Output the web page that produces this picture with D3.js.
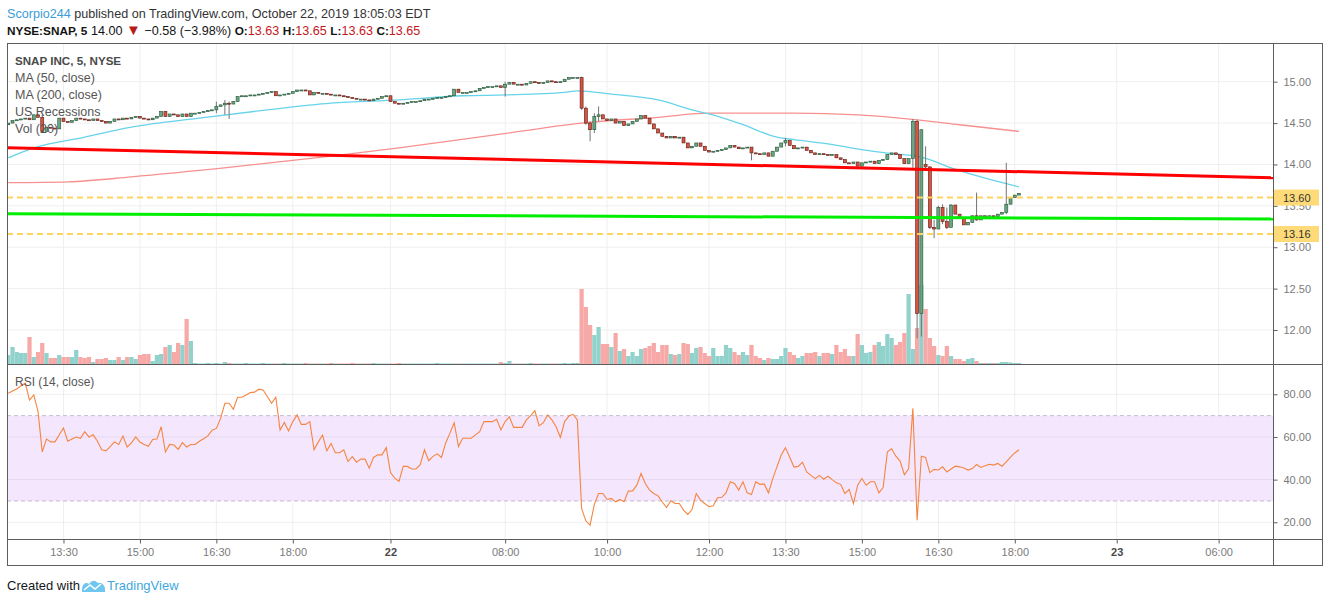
<!DOCTYPE html>
<html>
<head>
<meta charset="utf-8">
<script src="https://cdn.jsdelivr.net/npm/d3@7"></script>
<style>
    body { margin: 0; background: #ffffff; }
    svg text { font-family: "Liberation Sans", Arial, sans-serif; }
</style>
</head>
<body>
<div id="chart"></div>
<script>

// time axis: bar index of each label
const tickIdx = [13, 31, 49, 67, 90, 117, 141, 165, 183, 201, 219, 237, 261, 285];
const tickLabels = ["13:30", "15:00", "16:30", "18:00", "22", "08:00", "10:00", "12:00", "13:30", "15:00", "16:30", "18:00", "23", "06:00"];
const dayLabels = ["22", "23"];

const priceTicks = [12, 12.5, 13, 13.5, 14, 14.5, 15];
const rsiTicks = [20, 40, 60, 80];

// 5 min closes, Oct 21 12:25 -> Oct 22 18:05
const closes = [
    14.50,14.53,14.54,14.55,14.56,14.54,14.60,14.57,14.40,14.45,
    14.44,14.43,14.56,14.52,14.51,14.53,14.56,14.55,14.54,14.53,
    14.55,14.53,14.52,14.50,14.52,14.55,14.54,14.56,14.55,14.57,
    14.58,14.56,14.55,14.54,14.56,14.58,14.64,14.58,14.61,14.60,
    14.58,14.61,14.58,14.62,14.62,14.63,14.64,14.65,14.66,14.70,
    14.72,14.74,14.73,14.76,14.82,14.83,14.83,14.84,14.84,14.85,
    14.86,14.87,14.88,14.83,14.84,14.85,14.86,14.88,14.90,14.90,
    14.89,14.84,14.87,14.86,14.86,14.85,14.84,14.84,14.83,14.82,
    14.81,14.80,14.79,14.79,14.78,14.77,14.79,14.80,14.82,14.83,
    14.76,14.74,14.73,14.74,14.75,14.76,14.76,14.77,14.79,14.79,
    14.80,14.81,14.81,14.82,14.83,14.91,14.87,14.87,14.87,14.88,
    14.89,14.92,14.93,14.94,14.94,14.95,14.93,14.97,14.99,14.97,
    14.97,14.96,14.98,15.00,14.99,14.98,14.99,15.01,15.00,14.99,
    15.00,15.03,15.05,15.05,15.05,14.68,14.50,14.42,14.58,14.60,
    14.55,14.53,14.55,14.50,14.52,14.47,14.49,14.52,14.55,14.59,
    14.56,14.49,14.43,14.38,14.34,14.32,14.34,14.32,14.33,14.26,
    14.20,14.22,14.26,14.22,14.17,14.15,14.16,14.17,14.18,14.20,
    14.23,14.21,14.19,14.20,14.21,14.14,14.13,14.12,14.14,14.10,
    14.16,14.21,14.26,14.29,14.23,14.19,14.20,14.21,14.17,14.14,
    14.12,14.13,14.12,14.11,14.12,14.08,14.06,14.02,14.01,14.03,
    13.98,14.02,14.03,14.04,14.01,14.05,14.06,14.12,14.14,14.12,
    14.07,14.01,14.07,14.52,12.20,14.42,13.97,13.24,13.22,13.48,
    13.31,13.24,13.51,13.40,13.36,13.27,13.30,13.38,13.33,13.38,
    13.36,13.38,13.37,13.40,13.42,13.52,13.60,13.63,13.65
];

// opens that differ from the previous close
const gapIdx = [0, 216];
const gapOpen = [14.48, 14.00];

// bars with visible wicks
const wickIdx  = [8, 49, 51, 52, 117, 135, 136, 137, 138, 139, 175, 183, 213, 214, 215, 216, 217, 218, 219, 220, 221, 222, 228, 235];
const wickHigh = [14.60, 14.76, 14.78, 14.76, 15.00, 15.06, 14.70, 14.52, 14.62, 14.70, 14.15, 14.32, 14.55, 14.54, 14.42, 14.22, 13.98, 13.33, 13.50, 13.52, 13.48, 13.52, 13.66, 14.02];
const wickLow  = [14.38, 14.62, 14.60, 14.55, 14.82, 14.66, 14.48, 14.28, 14.38, 14.52, 14.05, 14.22, 13.96, 11.90, 11.92, 13.95, 13.22, 13.11, 13.22, 13.28, 13.22, 13.24, 13.32, 13.40];

// volume, thousand shares
const volumes = [
    180,340,240,220,220,540,140,240,420,220,120,120,180,140,140,140,280,140,120,140,
    40,100,100,120,80,80,140,80,140,140,100,180,200,200,60,180,200,340,380,240,
    420,380,900,460,
    20,10,10,20,10,20,10,40,20,10,10,10,20,10,10,10,20,10,10,10,
    10,20,10,10,10,10,20,10,10,10,10,10,20,10,10,10,10,20,10,10,
    10,10,20,10,10,10,
    10,10,20,10,10,10,10,10,10,10,10,20,10,10,10,10,10,10,10,10,
    10,10,10,10,10,10,40,20,60,10,10,10,10,20,10,10,10,10,10,10,
    10,20,10,20,20,
    1500,1140,780,580,740,400,400,340,620,260,300,160,240,160,300,320,360,420,240,380,
    380,200,180,200,420,400,220,320,340,220,160,320,160,160,380,320,240,180,240,180,
    380,160,120,80,120,100,100,160,320,240,180,120,160,220,220,240,160,220,220,200,
    380,240,300,160,
    160,600,380,220,240,380,440,360,600,520,380,440,620,1400,300,720,1580,1100,520,360,
    180,160,360,160,100,100,60,100,120,60,20,20,20,20,20,40,40,30,20,20
];

const rsi = [
    80.5,81.5,82.5,84,85.2,77.3,79.7,72,53,59,
    57.7,57.7,61,64.2,58,59,60,59.4,62.5,60,
    61,58,54,53.5,55.5,57.7,56.5,60.4,55.3,57.2,
    60,57.6,56.5,55.6,58.8,59,64.8,53,56.5,56.2,
    54.2,57.3,55.3,56.5,56.5,58,59.2,60.5,63.2,64,
    68.7,75.8,75.8,73,78.6,78.6,79.7,80.8,81,82.4,
    82,79,75.8,78.6,63.2,66.8,62.8,67.2,70.3,65.9,
    65.9,67.2,54,57.7,60.9,53.5,57,52.6,52.6,54,
    48.5,50.8,48.2,49.6,49.6,45.4,50.4,51.6,51.6,55,
    43.3,40.7,39.2,46.2,46.2,45,45,47,54,48.9,
    50.9,52.1,50.4,57.2,61.8,66.7,55.5,59.4,59.4,59.4,
    61,62.5,67.2,67.2,67.2,68.3,63.3,67.2,69.5,64.5,
    64.5,64.5,68,70,72.3,65.2,66.7,70.3,68,64.8,
    59.8,67.2,69.8,70.6,68,26.5,20.7,18.7,28.4,33.5,
    33.5,30.7,31.2,29.6,30.7,29.6,34.6,34.7,37.4,42.9,
    38.2,35.1,33.5,32.4,29.5,26.9,30.1,28.8,28.8,25.7,
    23.7,26,33.5,30.4,28.8,27.3,27.7,31.5,31.7,33.8,
    39,38.2,35.1,39,33.8,33,39,37.8,38,33.8,
    40.5,46,51.5,55,50.5,45.9,46.2,48.2,43.6,42,
    40.5,42,40.2,41.6,40,38.5,37.8,33.5,35.4,28.8,
    37.4,40.5,37.4,39,39,33.8,36.3,53,54.5,51,
    48.7,42.3,45.1,73.4,21,51,50.4,43.3,44.8,44.5,
    46,43.6,45,46.3,46,45.5,44.5,45.2,47.1,45.7,
    46.5,47.2,46.8,47.6,46.3,48.3,50.5,52.5,54
];

// moving averages at a few bars
const ma50Idx = [0, 6, 18, 29, 45, 61, 76, 92, 107, 117, 131, 134, 142, 153, 161, 165, 173, 181, 185, 193, 201, 208, 215, 222, 229, 238];
const ma50Val = [14.08, 14.20, 14.33, 14.45, 14.56, 14.66, 14.74, 14.78, 14.83, 14.84, 14.87, 14.89, 14.85, 14.78, 14.66, 14.61, 14.48, 14.33, 14.30, 14.25, 14.18, 14.13, 14.09, 13.96, 13.85, 13.73];
const ma200Idx = [0, 14, 29, 53, 76, 92, 115, 135, 153, 165, 185, 200, 214, 224, 238];
const ma200Val = [13.78, 13.79, 13.85, 13.97, 14.10, 14.20, 14.36, 14.50, 14.57, 14.62, 14.62, 14.60, 14.54, 14.48, 14.40];

// drawn trend lines and levels
const trendIdx = [-0.3, 297.8];
const redTrend = [14.203, 13.84];
const greenTrend = [13.405, 13.341];
const levels = [13.60, 13.16];


class Chart {
    constructor(parentElement) {
        this.parentElement = parentElement;
        this.initVis();
    }

    initVis() {
        let vis = this;
        vis.left = 7; vis.right = 1273; vis.outerRight = 1323;
        vis.top = 43; vis.paneSplit = 364; vis.rsiBottom = 539; vis.bottom = 566;

        vis.svg = d3.select("#" + vis.parentElement)
            .append("svg")
            .attr("width", 1330)
            .attr("height", 603);

        vis.x = d3.scaleLinear().domain([-0.3, 297.8]).range([vis.left, vis.right]);
        vis.yPrice = d3.scaleLinear().domain([12, 15]).range([330, 81.7]);
        vis.yVol = d3.scaleLinear().domain([0, 2000]).range([vis.paneSplit, vis.paneSplit - 100]);
        vis.yRsi = d3.scaleLinear().domain([20, 80]).range([522.3, 394.3]);

        let defs = vis.svg.append("defs");
        defs.append("clipPath").attr("id", "clip-main").append("rect")
            .attr("x", vis.left).attr("y", vis.top)
            .attr("width", vis.right - vis.left).attr("height", vis.paneSplit - vis.top);
        defs.append("clipPath").attr("id", "clip-rsi").append("rect")
            .attr("x", vis.left).attr("y", vis.paneSplit)
            .attr("width", vis.right - vis.left).attr("height", vis.rsiBottom - vis.paneSplit);

        vis.wrangleData();
    }

    wrangleData() {
        let vis = this;
        vis.bars = closes.map((c, i) => {
            let g = gapIdx.indexOf(i);
            let o = g >= 0 ? gapOpen[g] : (i > 0 ? closes[i - 1] : c);
            let w = wickIdx.indexOf(i);
            return {
                i: i, o: o, c: c, v: volumes[i], r: rsi[i],
                h: w >= 0 ? wickHigh[w] : Math.max(o, c),
                l: w >= 0 ? wickLow[w] : Math.min(o, c)
            };
        });
        vis.updateVis();
    }

    updateVis() {
        let vis = this;
        let bw = vis.x(1) - vis.x(0);

        // grid
        let grid = vis.svg.append("g").attr("class", "grid");
        grid.selectAll(".vgrid").data(tickIdx).enter().append("line")
            .attr("x1", d => vis.x(d)).attr("x2", d => vis.x(d))
            .attr("y1", vis.top).attr("y2", vis.rsiBottom)
            .attr("stroke", "#efefef");
        grid.selectAll(".pgrid").data(priceTicks).enter().append("line")
            .attr("x1", vis.left).attr("x2", vis.right)
            .attr("y1", d => vis.yPrice(d)).attr("y2", d => vis.yPrice(d))
            .attr("stroke", "#efefef");

        // RSI band + grid
        let rsiG = vis.svg.append("g").attr("clip-path", "url(#clip-rsi)");
        rsiG.append("rect")
            .attr("x", vis.left).attr("width", vis.right - vis.left)
            .attr("y", vis.yRsi(70)).attr("height", vis.yRsi(30) - vis.yRsi(70))
            .attr("fill", "#f4e6fd");
        rsiG.selectAll(".rgrid").data(rsiTicks).enter().append("line")
            .attr("x1", vis.left).attr("x2", vis.right)
            .attr("y1", d => vis.yRsi(d)).attr("y2", d => vis.yRsi(d))
            .attr("stroke", "rgba(0,0,0,0.06)");
        rsiG.selectAll(".band-line").data([70, 30]).enter().append("line")
            .attr("x1", vis.left).attr("x2", vis.right)
            .attr("y1", d => vis.yRsi(d)).attr("y2", d => vis.yRsi(d))
            .attr("stroke", "#c4bccb").attr("stroke-dasharray", "4,3");
        rsiG.append("path")
            .datum(vis.bars)
            .attr("fill", "none")
            .attr("stroke", "#f5853f")
            .attr("stroke-width", 1.1)
            .attr("d", d3.line().x(d => vis.x(d.i)).y(d => vis.yRsi(d.r)));

        let main = vis.svg.append("g").attr("clip-path", "url(#clip-main)");

        // volume
        main.selectAll(".vol").data(vis.bars).enter().append("rect")
            .attr("class", "vol")
            .attr("x", d => vis.x(d.i) - bw / 2)
            .attr("width", bw)
            .attr("y", d => vis.yVol(d.v))
            .attr("height", d => vis.yVol(0) - vis.yVol(d.v))
            .attr("fill", d => d.c >= d.o ? "#92d2cc" : "#f7a9a7");

        // moving averages
        let maLine = d3.line().x(d => vis.x(d[0])).y(d => vis.yPrice(d[1])).curve(d3.curveMonotoneX);
        main.append("path")
            .datum(ma200Idx.map((d, k) => [d, ma200Val[k]]))
            .attr("fill", "none").attr("stroke", "#f7908f").attr("stroke-width", 1.3)
            .attr("d", maLine);
        main.append("path")
            .datum(ma50Idx.map((d, k) => [d, ma50Val[k]]))
            .attr("fill", "none").attr("stroke", "#66d3ea").attr("stroke-width", 1.3)
            .attr("d", maLine);

        // candles
        let candles = main.selectAll(".candle").data(vis.bars).enter().append("g").attr("class", "candle");
        candles.append("line")
            .attr("x1", d => vis.x(d.i)).attr("x2", d => vis.x(d.i))
            .attr("y1", d => vis.yPrice(d.h)).attr("y2", d => vis.yPrice(d.l))
            .attr("stroke", "#737375").attr("stroke-width", 1);
        candles.append("rect")
            .attr("x", d => vis.x(d.i) - 1.5)
            .attr("width", 3)
            .attr("y", d => vis.yPrice(Math.max(d.o, d.c)))
            .attr("height", d => Math.max(1, Math.abs(vis.yPrice(d.o) - vis.yPrice(d.c))))
            .attr("fill", d => d.c >= d.o ? "#6ba583" : "#d75442")
            .attr("stroke", d => d.c >= d.o ? "#225437" : "#5b1a13")
            .attr("stroke-width", 0.6);

        // levels and trend lines
        main.selectAll(".level").data(levels).enter().append("line")
            .attr("x1", vis.left).attr("x2", vis.right)
            .attr("y1", d => vis.yPrice(d)).attr("y2", d => vis.yPrice(d))
            .attr("stroke", "#ffd45e").attr("stroke-width", 2)
            .attr("stroke-dasharray", "6,4");
        let trendLine = d3.line().x(d => vis.x(d[0])).y(d => vis.yPrice(d[1]));
        main.append("path")
            .datum(trendIdx.map((d, k) => [d, redTrend[k]]))
            .attr("stroke", "#ff0000").attr("stroke-width", 3).attr("d", trendLine);
        main.append("path")
            .datum(trendIdx.map((d, k) => [d, greenTrend[k]]))
            .attr("stroke", "#00ee00").attr("stroke-width", 3).attr("d", trendLine);

        // legends
        let legend = vis.svg.append("g");
        let legendRows = ["SNAP INC, 5, NYSE", "MA (50, close)", "MA (200, close)", "US Recessions", "Vol (20)"];
        legend.selectAll("text").data(legendRows).enter().append("text")
            .attr("x", 15)
            .attr("y", (d, k) => 65.4 + k * 16.8)
            .attr("font-weight", (d, k) => k === 0 ? "700" : "400")
            .attr("font-size", (d, k) => k === 0 ? "11.6px" : "12.5px")
            .attr("fill", (d, k) => k === 0 ? "#4a4a4a" : "#555")
            .text(d => d);
        vis.svg.append("text")
            .attr("x", 15).attr("y", 386)
            .attr("font-size", "12px").attr("fill", "#555")
            .text("RSI (14, close)");

        // frame
        let frame = vis.svg.append("g").attr("fill", "none").attr("stroke", "#5d5d5d");
        frame.append("rect")
            .attr("x", vis.left + 0.5).attr("y", vis.top + 0.5)
            .attr("width", vis.outerRight - vis.left - 1).attr("height", vis.bottom - vis.top - 1);
        frame.append("line").attr("x1", vis.right + 0.5).attr("x2", vis.right + 0.5)
            .attr("y1", vis.top).attr("y2", vis.bottom);
        frame.append("line").attr("x1", vis.left).attr("x2", vis.outerRight)
            .attr("y1", vis.paneSplit + 0.5).attr("y2", vis.paneSplit + 0.5);
        frame.append("line").attr("x1", vis.left).attr("x2", vis.outerRight)
            .attr("y1", vis.rsiBottom + 0.5).attr("y2", vis.rsiBottom + 0.5);

        // axes
        let styleAxis = g => {
            g.select(".domain").remove();
            g.selectAll(".tick line").attr("stroke", "#5d5d5d");
            g.selectAll(".tick text")
                .attr("fill", "#7a7a7a")
                .style("font-family", "'Liberation Sans', Arial, sans-serif")
                .style("font-size", "11px");
        };
        vis.svg.append("g")
            .attr("transform", "translate(" + (vis.right + 0.5) + ",0)")
            .call(d3.axisRight(vis.yPrice).tickValues(priceTicks).tickFormat(d3.format(".2f")).tickSize(4).tickPadding(6))
            .call(styleAxis);
        vis.svg.append("g")
            .attr("transform", "translate(" + (vis.right + 0.5) + ",0)")
            .call(d3.axisRight(vis.yRsi).tickValues(rsiTicks).tickFormat(d3.format(".2f")).tickSize(4).tickPadding(6))
            .call(styleAxis);
        let xAxisG = vis.svg.append("g")
            .attr("transform", "translate(0," + (vis.rsiBottom + 0.5) + ")")
            .call(d3.axisBottom(vis.x).tickValues(tickIdx).tickFormat((d, k) => tickLabels[k]).tickSize(4).tickPadding(5))
            .call(styleAxis);
        xAxisG.selectAll(".tick text")
            .filter(d => dayLabels.includes(tickLabels[tickIdx.indexOf(d)]))
            .attr("fill", "#4a4a4a")
            .style("font-weight", "700");

        // price badges for the dashed levels
        let badges = vis.svg.selectAll(".badge").data(levels).enter().append("g");
        badges.append("rect")
            .attr("x", vis.right + 1).attr("width", 45)
            .attr("y", d => vis.yPrice(d) - 8).attr("height", 16)
            .attr("fill", "#fedb78");
        badges.append("text")
            .attr("x", vis.right + 10).attr("y", d => vis.yPrice(d))
            .attr("dy", "0.36em")
            .attr("font-size", "11px").attr("fill", "#333")
            .text(d => d3.format(".2f")(d));

        // header
        vis.svg.append("text")
            .attr("x", 7).attr("y", 17.5)
            .attr("font-size", "12.6px").attr("fill", "#333")
            .call(t => {
                t.append("tspan").attr("fill", "#3d9bd8").text("Scorpio244");
                t.append("tspan").text(" published on TradingView.com, October 22, 2019 18:05:03 EDT");
            });
        let lastBar = vis.bars[vis.bars.length - 1];
        let fmt = d3.format(".2f");
        let parts = [
            ["NYSE:SNAP, 5", "b", "#131313"],
            [" 14.00 ", "n", "#131313"],
            ["\u25BC", "t", "#b71c1c"],
            [" \u22120.58 (\u22123.98%) ", "n", "#131313"],
            ["O:", "b", "#131313"], [fmt(lastBar.o) + " ", "n", "#c4161c"],
            ["H:", "b", "#131313"], [fmt(lastBar.h) + " ", "n", "#c4161c"],
            ["L:", "b", "#131313"], [fmt(lastBar.l) + " ", "n", "#c4161c"],
            ["C:", "b", "#131313"], [fmt(lastBar.c), "n", "#c4161c"]
        ];
        vis.svg.append("text")
            .attr("x", 7).attr("y", 34.5)
            .style("white-space", "pre")
            .selectAll("tspan").data(parts).enter().append("tspan")
            .attr("fill", d => d[2])
            .attr("font-weight", d => d[1] === "b" ? "700" : "400")
            .attr("font-size", d => d[1] === "b" ? "11.8px" : (d[1] === "t" ? "15px" : "12.6px"))
            .text(d => d[0]);

        // footer
        vis.svg.append("text")
            .attr("x", 7).attr("y", 590)
            .attr("font-size", "13px").attr("fill", "#131722")
            .text("Created with");
        let logo = vis.svg.append("g").attr("transform", "translate(82,578)");
        logo.append("path")
            .attr("d", "M0,14 L0,10 Q2,3 7,6 Q11,0 16,5 Q21,4 23,10 L23,14 Z")
            .attr("fill", "#6fc6ee");
        logo.append("path")
            .attr("d", "M2,12 L8,7 L13,11 L19,6")
            .attr("fill", "none").attr("stroke", "#ffffff").attr("stroke-width", 1.6);
        vis.svg.append("text")
            .attr("x", 107).attr("y", 590)
            .attr("font-size", "13px").attr("fill", "#3ea7de")
            .text("TradingView");
    }
}

new Chart("chart");
</script>
</body>
</html>
